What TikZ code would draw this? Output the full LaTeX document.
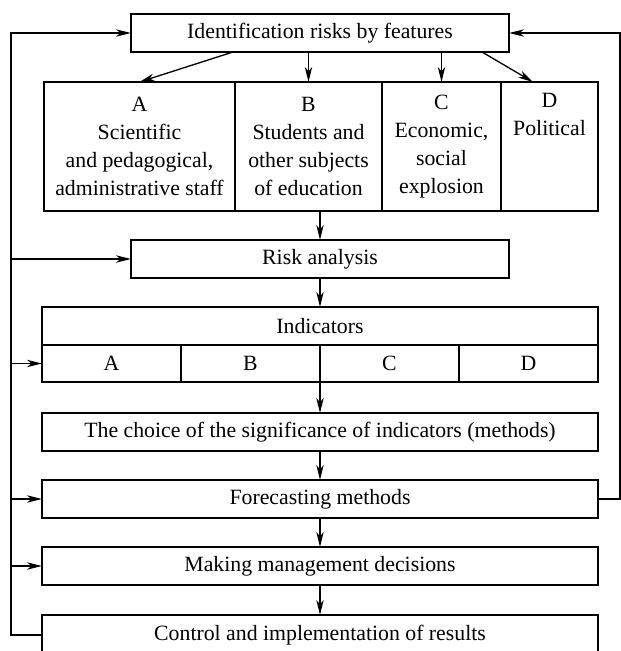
\documentclass[tikz,border=0pt]{standalone}
\usepackage{fontspec}
\setmainfont{Liberation Serif}
\usetikzlibrary{arrows.meta,positioning}

\begin{document}
\begin{tikzpicture}
  [->,>={Stealth[length=8.5pt,width=4.2pt,inset=2.4pt]},line width=0.75pt,
  node distance=0.58cm,font=\fontsize{12.4}{15.9}\selectfont,
	main box/.style={rectangle,draw,outer sep=0pt,
  minimum width=7.56cm,minimum height=0.76cm},
	wide box/.style={main box,minimum width=11.12cm},
	col box/.style={rectangle,draw,outer sep=0pt,align=center,
  inner sep=2pt,minimum height=2.58cm},
	cell box/.style={rectangle,draw,outer sep=0pt,
  minimum width=2.78cm,minimum height=0.74cm}]

  \clip (0,0) rectangle (12.42,-13.02);

  \node[main box] (ident) at (6.40,-0.66) {Identification risks by features};
  \node[col box,minimum width=3.82cm,anchor=north west] (colA) at (0.88,-1.64)
    {A\\Scientific\\and pedagogical,\\administrative staff};
  \node[col box,minimum width=2.94cm] (colB) [right=0pt of colA]
    {B\\Students and\\other subjects\\of education};
  \node[col box,minimum width=2.38cm] (colC) [right=0pt of colB]
    {C\\Economic,\\social\\explosion};
  \node[col box,minimum width=1.94cm] (colD) [right=0pt of colC]
    {D\\Political\\\strut\\\strut};

  \node[main box] (risk) at (6.40,-5.18) {Risk analysis};
  \node[wide box] (ind) [below=of risk] {Indicators};
  \node[cell box] (iA) [below right=0pt and 0pt of ind.south west] {A};
  \node[cell box] (iB) [right=0pt of iA] {B};
  \node[cell box] (iC) [right=0pt of iB] {C};
  \node[cell box] (iD) [right=0pt of iC] {D};

  \node[wide box] (choice) [below=0.62cm of iB.south east]
    {The choice of the significance of indicators (methods)};
  \node[wide box] (forecast) [below=of choice] {Forecasting methods};
  \node[wide box] (making) [below=of forecast] {Making management decisions};
  \node[wide box,minimum height=0.8cm] (control) [below=0.6cm of making]
    {Control and implementation of results};

  \path
    ([xshift=-1.74cm]ident.south) edge (colA.north)
    (ident.south -| colB.north) edge (colB.north)
    (ident.south -| colC.north) edge (colC.north)
    ([xshift=3.24cm]ident.south) edge ([xshift=-0.33cm]colD.north)
    (risk |- colA.south) edge (risk)
    (risk) edge (ind)
    (iB.south east) edge (choice)
    (choice) edge (forecast)
    (forecast) edge (making)
    (making) edge (control);

  % feedback lines
  \coordinate (fbL) at (0.22,-0.66);
  \coordinate (fbR) at (12.40,-0.66);
  \draw (control.west) -| (fbL) -- (ident.west);
  \draw (forecast.east) -| (fbR) -- (ident.east);
  \path
    (fbL |- risk) edge (risk)
    (fbL |- iA) edge (iA)
    (fbL |- forecast) edge (forecast)
    (fbL |- making) edge (making);
\end{tikzpicture}
\end{document}
